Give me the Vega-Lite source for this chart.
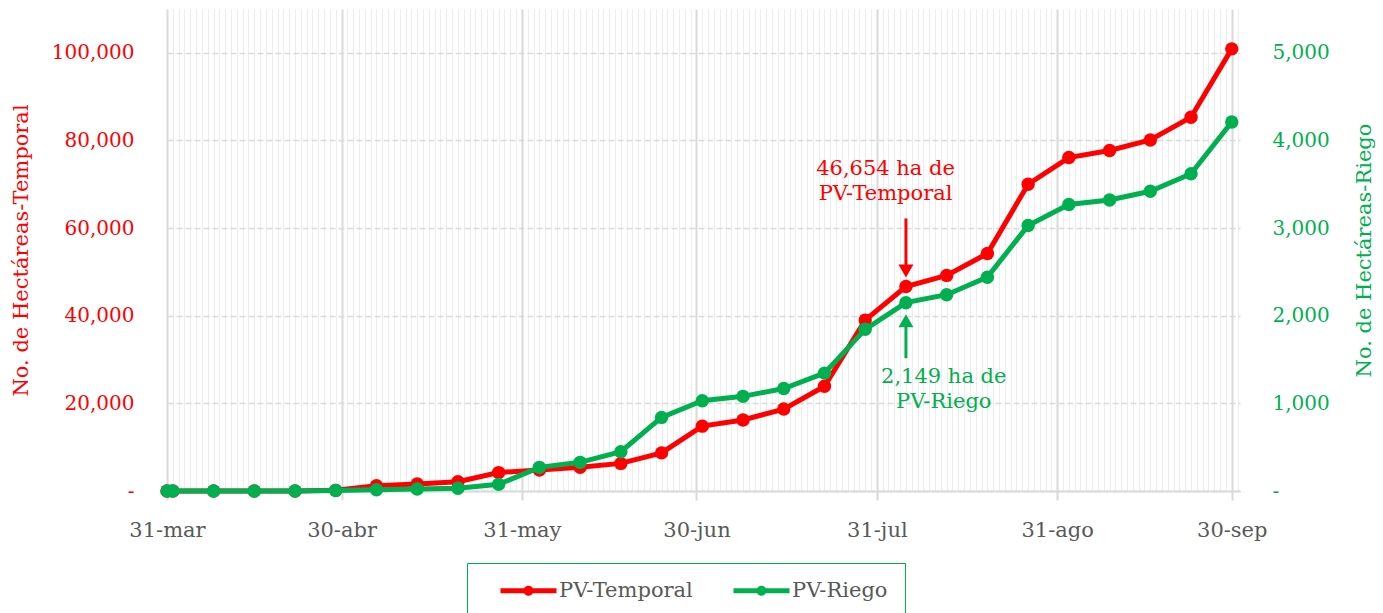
{
  "$schema": "https://vega.github.io/schema/vega-lite/v6.json",
  "width": 1073,
  "height": 482,
  "autosize": {"type": "none"},
  "padding": {"left": 167, "top": 9, "right": 143, "bottom": 122},
  "config": {
    "font": "DejaVu Serif",
    "view": {"stroke": null},
    "axis": {"labelFontSize": 20, "titleFontSize": 21, "titleFontWeight": "normal"}
  },
  "data": {
    "values": [
      {"date": "2024-03-31", "serie": "PV-Temporal", "v": 0},
      {"date": "2024-04-01", "serie": "PV-Temporal", "v": 0},
      {"date": "2024-04-08", "serie": "PV-Temporal", "v": 0},
      {"date": "2024-04-15", "serie": "PV-Temporal", "v": 0},
      {"date": "2024-04-22", "serie": "PV-Temporal", "v": 0},
      {"date": "2024-04-29", "serie": "PV-Temporal", "v": 150},
      {"date": "2024-05-06", "serie": "PV-Temporal", "v": 1200},
      {"date": "2024-05-13", "serie": "PV-Temporal", "v": 1600},
      {"date": "2024-05-20", "serie": "PV-Temporal", "v": 2100},
      {"date": "2024-05-27", "serie": "PV-Temporal", "v": 4200},
      {"date": "2024-06-03", "serie": "PV-Temporal", "v": 4800},
      {"date": "2024-06-10", "serie": "PV-Temporal", "v": 5400},
      {"date": "2024-06-17", "serie": "PV-Temporal", "v": 6300},
      {"date": "2024-06-24", "serie": "PV-Temporal", "v": 8700},
      {"date": "2024-07-01", "serie": "PV-Temporal", "v": 14800},
      {"date": "2024-07-08", "serie": "PV-Temporal", "v": 16200},
      {"date": "2024-07-15", "serie": "PV-Temporal", "v": 18700},
      {"date": "2024-07-22", "serie": "PV-Temporal", "v": 23900},
      {"date": "2024-07-29", "serie": "PV-Temporal", "v": 39000},
      {"date": "2024-08-05", "serie": "PV-Temporal", "v": 46654},
      {"date": "2024-08-12", "serie": "PV-Temporal", "v": 49200},
      {"date": "2024-08-19", "serie": "PV-Temporal", "v": 54200},
      {"date": "2024-08-26", "serie": "PV-Temporal", "v": 70000},
      {"date": "2024-09-02", "serie": "PV-Temporal", "v": 76100},
      {"date": "2024-09-09", "serie": "PV-Temporal", "v": 77700},
      {"date": "2024-09-16", "serie": "PV-Temporal", "v": 80100},
      {"date": "2024-09-23", "serie": "PV-Temporal", "v": 85300},
      {"date": "2024-09-30", "serie": "PV-Temporal", "v": 100900},
      {"date": "2024-03-31", "serie": "PV-Riego", "v": 0},
      {"date": "2024-04-01", "serie": "PV-Riego", "v": 0},
      {"date": "2024-04-08", "serie": "PV-Riego", "v": 0},
      {"date": "2024-04-15", "serie": "PV-Riego", "v": 0},
      {"date": "2024-04-22", "serie": "PV-Riego", "v": 0},
      {"date": "2024-04-29", "serie": "PV-Riego", "v": 5},
      {"date": "2024-05-06", "serie": "PV-Riego", "v": 15},
      {"date": "2024-05-13", "serie": "PV-Riego", "v": 22},
      {"date": "2024-05-20", "serie": "PV-Riego", "v": 31},
      {"date": "2024-05-27", "serie": "PV-Riego", "v": 76},
      {"date": "2024-06-03", "serie": "PV-Riego", "v": 270},
      {"date": "2024-06-10", "serie": "PV-Riego", "v": 327},
      {"date": "2024-06-17", "serie": "PV-Riego", "v": 448},
      {"date": "2024-06-24", "serie": "PV-Riego", "v": 840},
      {"date": "2024-07-01", "serie": "PV-Riego", "v": 1030},
      {"date": "2024-07-08", "serie": "PV-Riego", "v": 1080},
      {"date": "2024-07-15", "serie": "PV-Riego", "v": 1170},
      {"date": "2024-07-22", "serie": "PV-Riego", "v": 1345},
      {"date": "2024-07-29", "serie": "PV-Riego", "v": 1845},
      {"date": "2024-08-05", "serie": "PV-Riego", "v": 2149},
      {"date": "2024-08-12", "serie": "PV-Riego", "v": 2240},
      {"date": "2024-08-19", "serie": "PV-Riego", "v": 2440},
      {"date": "2024-08-26", "serie": "PV-Riego", "v": 3030},
      {"date": "2024-09-02", "serie": "PV-Riego", "v": 3270},
      {"date": "2024-09-09", "serie": "PV-Riego", "v": 3320},
      {"date": "2024-09-16", "serie": "PV-Riego", "v": 3420},
      {"date": "2024-09-23", "serie": "PV-Riego", "v": 3620},
      {"date": "2024-09-30", "serie": "PV-Riego", "v": 4210}
    ]
  },
  "encoding": {
    "x": {
      "field": "date",
      "type": "temporal",
      "scale": {"type": "utc", "domain": [1711843200000, 1727776800000], "nice": false},
      "axis": {
        "title": null,
        "tickCount": {"interval": "day", "step": 1},
        "grid": true,
        "gridColor": {"condition": {"test": "utcdate(time(datum.value) + 86400000) == 1", "value": "#D9D9D9"}, "value": "#EDEDED"},
        "gridWidth": {"condition": {"test": "utcdate(time(datum.value) + 86400000) == 1", "value": 2}, "value": 1},
        "tickOpacity": {"condition": {"test": "utcdate(time(datum.value) + 86400000) == 1", "value": 1}, "value": 0},
        "tickColor": "#D9D9D9",
        "tickWidth": 2,
        "tickSize": 9,
        "domainColor": "#D9D9D9",
        "domainWidth": 2,
        "labelExpr": "utcdate(time(datum.value) + 86400000) == 1 ? utcFormat(datum.value, '%d') + '-' + ['ene','feb','mar','abr','may','jun','jul','ago','sep','oct','nov','dic'][utcmonth(datum.value)] : ''",
        "labelOverlap": false,
        "labelFlush": false,
        "labelPadding": 19,
        "labelColor": "#595959",
        "labelFontSize": 21
      }
    }
  },
  "layer": [
    {
      "encoding": {
        "y": {
          "field": "v",
          "type": "quantitative",
          "scale": {"domain": [0, 110000], "nice": false},
          "axis": {
            "orient": "left",
            "title": "No. de Hectáreas-Temporal",
            "values": [0, 20000, 40000, 60000, 80000, 100000],
            "labelExpr": "datum.value == 0 ? '-' : format(datum.value, ',')",
            "labelColor": "#FF0000",
            "titleColor": "#FF0000",
            "grid": true,
            "gridColor": "#D9D9D9",
            "gridDash": [6, 3],
            "gridWidth": 1.5,
            "domain": false,
            "ticks": false,
            "tickSize": 0,
            "labelPadding": 33,
            "titlePadding": 20
          }
        }
      },
      "layer": [
        {
          "transform": [{"filter": "datum.serie == 'PV-Temporal'"}],
          "mark": {"type": "line", "color": "#FF0000", "strokeWidth": 5}
        },
        {
          "transform": [{"filter": "datum.serie == 'PV-Temporal'"}],
          "mark": {"type": "point", "filled": true, "size": 180, "opacity": 1},
          "encoding": {
            "color": {
              "field": "serie",
              "type": "nominal",
              "scale": {"domain": ["PV-Temporal", "PV-Riego"], "range": ["#FF0000", "#00B050"]},
              "legend": {
                "title": null,
                "orient": "none",
                "legendX": 300,
                "legendY": 554,
                "direction": "horizontal",
                "columns": 2,
                "symbolType": "M-5.6,-0.5H5.6V0.5H-5.6Z M-1,0A1,1 0 1,1 1,0A1,1 0 1,1 -1,0Z",
                "symbolSize": 100,
                "symbolStrokeWidth": 0,
                "symbolOffset": 34,
                "labelOffset": 20,
                "labelFontSize": 21,
                "labelColor": "#595959",
                "labelLimit": 300,
                "strokeColor": "#00B050",
                "padding": 17,
                "columnPadding": 24
              }
            }
          }
        },
        {
          "data": {"values": [{"date": "2024-08-05", "v": 62200, "v2": 50300}]},
          "mark": {"type": "rule", "color": "#FF0000", "strokeWidth": 3},
          "encoding": {"y2": {"field": "v2"}}
        },
        {
          "data": {"values": [{"date": "2024-08-05", "v": 50230}]},
          "mark": {"type": "point", "shape": "triangle-down", "filled": true, "size": 225, "color": "#FF0000", "opacity": 1}
        },
        {
          "data": {"values": [
            {"date": "2024-08-01T12:00:00Z", "v": 73500, "label": "46,654 ha de"},
            {"date": "2024-08-01T12:00:00Z", "v": 67800, "label": "PV-Temporal"}
          ]},
          "mark": {"type": "text", "color": "#FF0000", "fontSize": 21, "baseline": "middle", "align": "center"},
          "encoding": {"text": {"field": "label"}}
        }
      ]
    },
    {
      "encoding": {
        "y": {
          "field": "v",
          "type": "quantitative",
          "scale": {"domain": [0, 5500], "nice": false},
          "axis": {
            "orient": "right",
            "title": "No. de Hectáreas-Riego",
            "values": [0, 1000, 2000, 3000, 4000, 5000],
            "labelExpr": "datum.value == 0 ? '-' : format(datum.value, ',')",
            "labelColor": "#00B050",
            "titleColor": "#00B050",
            "grid": false,
            "domain": false,
            "ticks": false,
            "tickSize": 0,
            "labelPadding": 32,
            "titlePadding": 24,
            "titleAngle": 270,
            "titleBaseline": "top"
          }
        }
      },
      "layer": [
        {
          "transform": [{"filter": "datum.serie == 'PV-Riego'"}],
          "mark": {"type": "line", "color": "#00B050", "strokeWidth": 5}
        },
        {
          "transform": [{"filter": "datum.serie == 'PV-Riego'"}],
          "mark": {"type": "point", "filled": true, "size": 180, "opacity": 1},
          "encoding": {
            "color": {
              "field": "serie",
              "type": "nominal",
              "scale": {"domain": ["PV-Temporal", "PV-Riego"], "range": ["#FF0000", "#00B050"]},
              "legend": {
                "title": null,
                "orient": "none",
                "legendX": 300,
                "legendY": 554,
                "direction": "horizontal",
                "columns": 2,
                "symbolType": "M-5.6,-0.5H5.6V0.5H-5.6Z M-1,0A1,1 0 1,1 1,0A1,1 0 1,1 -1,0Z",
                "symbolSize": 100,
                "symbolStrokeWidth": 0,
                "symbolOffset": 34,
                "labelOffset": 20,
                "labelFontSize": 21,
                "labelColor": "#595959",
                "labelLimit": 300,
                "strokeColor": "#00B050",
                "padding": 17,
                "columnPadding": 24
              }
            }
          }
        },
        {
          "data": {"values": [{"date": "2024-08-05", "v": 1515, "v2": 1935}]},
          "mark": {"type": "rule", "color": "#00B050", "strokeWidth": 3},
          "encoding": {"y2": {"field": "v2"}}
        },
        {
          "data": {"values": [{"date": "2024-08-05", "v": 1942}]},
          "mark": {"type": "point", "shape": "triangle-up", "filled": true, "size": 225, "color": "#00B050", "opacity": 1}
        },
        {
          "data": {"values": [
            {"date": "2024-08-11T12:00:00Z", "v": 1302, "label": "2,149 ha de"},
            {"date": "2024-08-11T12:00:00Z", "v": 1017, "label": "PV-Riego"}
          ]},
          "mark": {"type": "text", "color": "#00B050", "fontSize": 21, "baseline": "middle", "align": "center"},
          "encoding": {"text": {"field": "label"}}
        }
      ]
    }
  ],
  "resolve": {"scale": {"y": "independent"}}
}
